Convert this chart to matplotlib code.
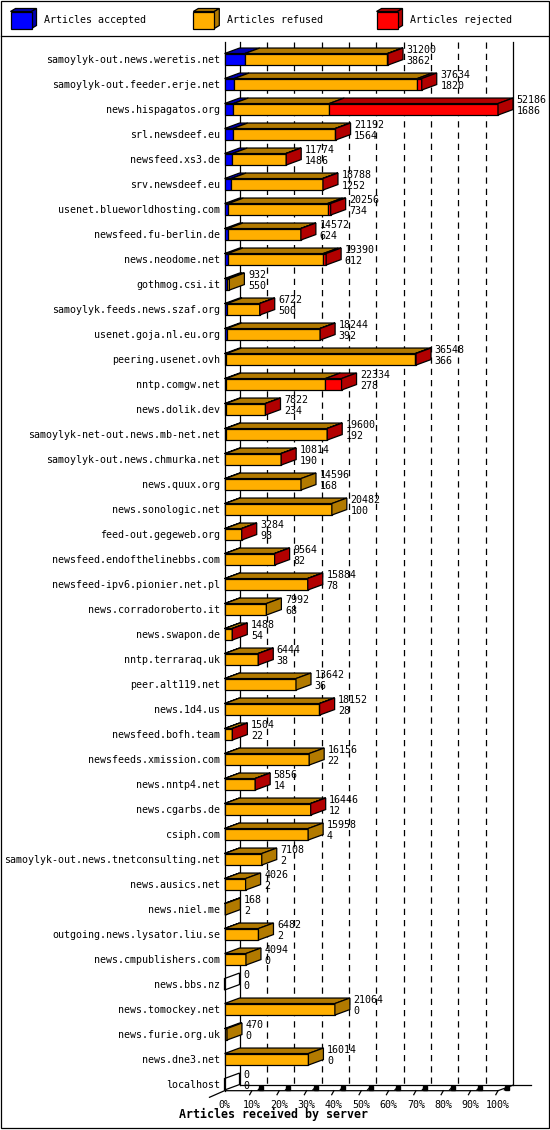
import matplotlib
matplotlib.use("Agg")
import matplotlib.pyplot as plt
from matplotlib.patches import Polygon, Rectangle
import numpy as np

servers = ["samoylyk-out.news.weretis.net", "samoylyk-out.feeder.erje.net", "news.hispagatos.org",
           "srl.newsdeef.eu", "newsfeed.xs3.de", "srv.newsdeef.eu", "usenet.blueworldhosting.com",
           "newsfeed.fu-berlin.de", "news.neodome.net", "gothmog.csi.it", "samoylyk.feeds.news.szaf.org",
           "usenet.goja.nl.eu.org", "peering.usenet.ovh", "nntp.comgw.net", "news.dolik.dev",
           "samoylyk-net-out.news.mb-net.net", "samoylyk-out.news.chmurka.net", "news.quux.org",
           "news.sonologic.net", "feed-out.gegeweb.org", "newsfeed.endofthelinebbs.com",
           "newsfeed-ipv6.pionier.net.pl", "news.corradoroberto.it", "news.swapon.de", "nntp.terraraq.uk",
           "peer.alt119.net", "news.1d4.us", "newsfeed.bofh.team", "newsfeeds.xmission.com",
           "news.nntp4.net", "news.cgarbs.de", "csiph.com", "samoylyk-out.news.tnetconsulting.net",
           "news.ausics.net", "news.niel.me", "outgoing.news.lysator.liu.se", "news.cmpublishers.com",
           "news.bbs.nz", "news.tomockey.net", "news.furie.org.uk", "news.dne3.net", "localhost"]
offered = np.array([31200, 37634, 52186, 21192, 11774, 18788, 20256, 14572, 19390, 932, 6722,
                    18244, 36548, 22334, 7822, 19600, 10814, 14596, 20482, 3284, 9564, 15884,
                    7992, 1488, 6444, 13642, 18152, 1504, 16156, 5856, 16446, 15958, 7108,
                    4026, 168, 6482, 4094, 0, 21064, 470, 16014, 0])
accepted = np.array([3862, 1820, 1686, 1564, 1486, 1252, 734, 624, 612, 550, 500, 392, 366, 278,
                     234, 192, 190, 168, 100, 98, 82, 78, 68, 54, 38, 36, 28, 22, 22, 14, 12, 4,
                     2, 2, 2, 2, 0, 0, 0, 0, 0, 0])
rejected = np.array([120, 850, 32200, 90, 70, 80, 600, 40, 550, 0, 30, 60, 150, 3100, 20, 50,
                     30, 0, 0, 12, 20, 40, 0, 10, 18, 0, 30, 8, 0, 16, 24, 0, 0, 0, 0, 0, 0,
                     0, 0, 0, 0, 0])
refused = offered - accepted - rejected

series_names = ["Articles accepted", "Articles refused", "Articles rejected"]
front_colors = ["#0000ff", "#ffaf00", "#ff0000"]
shade_colors = ["#0000b2", "#b27a00", "#b20000"]
ticks = np.arange(0, 101, 10)

plt.rcParams["font.family"] = "DejaVu Sans Mono"
plt.rcParams["font.size"] = 7.2

W, H = 550, 1130
fig = plt.figure(figsize=(W / 100, H / 100), dpi=100)
lw = 0.9

# depth of the fake 3d, in data units (percent / rows)
dx = 15 / 2.735
dy = 0.22
bh = 0.46
r_top = (42 - 59.3) / 25
r_floor = (1090.7 - 59.3) / 25

ax = fig.add_axes([224.5 / W, 1 - 1090.7 / H, 273.5 / W, (1090.7 - 42) / H])
ax.set_xlim(0, 100)
ax.set_ylim(r_floor, r_top)
ax.patch.set_visible(False)
for s in ax.spines.values():
    s.set_visible(False)

# back wall
for t in ticks:
    style = "-" if t in (0, 100) else (0, (5, 4))
    ax.plot([t + dx, t + dx], [r_top, r_floor - dy], color="k", lw=lw, ls=style, clip_on=False, zorder=1)
ax.plot([0, 0], [r_top, r_floor], color="k", lw=lw, clip_on=False, zorder=1)
# floor
ax.plot([-dx, 0, 100, 100 + dx], [r_floor + dy * 1.2, r_floor, r_floor, r_floor - dy],
        color="k", lw=lw, clip_on=False, zorder=1)
ax.plot([dx, 112], [r_floor - dy, r_floor - dy], color="k", lw=lw, clip_on=False, zorder=1)
for t in ticks[1:]:
    ax.plot([t, t - 0.8], [r_floor, r_floor + 0.16], color="k", lw=lw, clip_on=False)
    ax.plot([t + 2.3, t + 3.3], [r_floor - 0.03, r_floor - 0.15], color="k", lw=lw, clip_on=False)
    ax.plot([t + 3.4], [r_floor - 0.12], marker="s", ms=2.2, color="k", clip_on=False)

scale = 100.0 / offered.max()
parts_all = np.stack([accepted, refused, rejected], axis=1) * scale

for r, parts in enumerate(parts_all):
    top = r - bh / 2
    bot = r + bh / 2
    x = 0.0
    last = None
    for k, w in enumerate(parts):
        if w <= 0:
            continue
        ax.add_patch(Rectangle((x, top), w, bh, fc=front_colors[k], ec="k", lw=lw, zorder=3, clip_on=False))
        ax.add_patch(Polygon([(x, top), (x + w, top), (x + w + dx, top - dy), (x + dx, top - dy)],
                             closed=True, fc=shade_colors[k], ec="k", lw=lw, zorder=3, clip_on=False))
        x += w
        last = k
    side = [(x, top), (x + dx, top - dy), (x + dx, bot - dy), (x, bot)]
    ax.add_patch(Polygon(side, closed=True, fc=shade_colors[last] if last is not None else "none",
                         ec="k", lw=lw, zorder=3, clip_on=False))
    ax.text(x + dx + 1.3, r - 0.37, str(offered[r]), ha="left", va="center", zorder=4)
    ax.text(x + dx + 1.3, r + 0.07, str(accepted[r]), ha="left", va="center", zorder=4)

ax.set_yticks(range(len(servers)), servers)
ax.set_xticks(ticks, [f"{t}%" for t in ticks])
ax.tick_params(axis="y", length=0, pad=3.2)
ax.tick_params(axis="x", length=0, pad=6.5)
fig.text(273.7 / W, 1 - 1114.3 / H, "Articles received by server", ha="center", va="center",
         fontsize=8.4, fontweight="bold")

# frame and legend, in pixel units
lg = fig.add_axes([0, 0, 1, 1])
lg.set_xlim(0, W)
lg.set_ylim(H, 0)
lg.axis("off")
lg.patch.set_visible(False)
lg.add_patch(Rectangle((0.5, 0.5), W - 1.5, H - 2.5, fc="none", ec="k", lw=lw))
lg.plot([0.5, W - 1], [36, 36], color="k", lw=lw)
for name, fc, sc, x0 in zip(series_names, front_colors, shade_colors, [10.5, 193.3, 376.5]):
    lg.add_patch(Polygon([(x0, 11.5), (x0 + 21, 11.5), (x0 + 26, 8.5), (x0 + 5, 8.5)], closed=True,
                         fc=sc, ec="k", lw=lw))
    lg.add_patch(Polygon([(x0 + 21, 11.5), (x0 + 26, 8.5), (x0 + 26, 25.5), (x0 + 21, 28.5)], closed=True,
                         fc=sc, ec="k", lw=lw))
    lg.add_patch(Rectangle((x0, 11.5), 21, 17, fc=fc, ec="k", lw=lw))
    lg.text(x0 + 34, 20, name, ha="left", va="center")

fig.savefig("out.png", dpi=100)
